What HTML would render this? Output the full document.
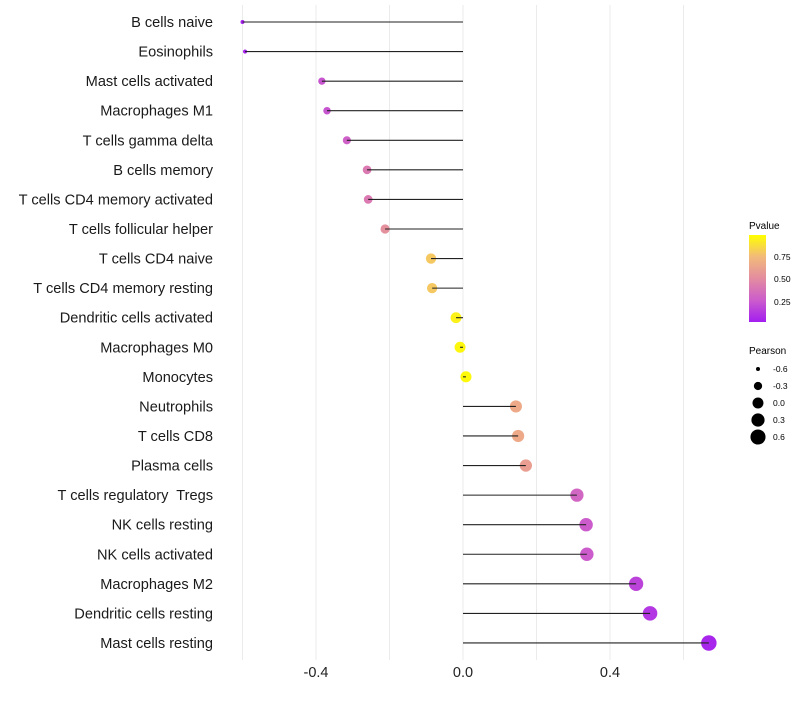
<!DOCTYPE html>
<html><head><meta charset="utf-8"><style>
body{margin:0;background:#fff;font-family:"Liberation Sans",sans-serif}
</style></head><body>
<svg id="chart" width="800" height="700" xmlns="http://www.w3.org/2000/svg" font-family="Liberation Sans, sans-serif">
<defs><linearGradient id="pg" x1="0" y1="1" x2="0" y2="0">
<stop offset="0" stop-color="#a31ef0"/><stop offset="0.25" stop-color="#cc5ccc"/><stop offset="0.5" stop-color="#e38ca0"/><stop offset="0.75" stop-color="#f2ba7a"/><stop offset="1" stop-color="#ffff00"/></linearGradient></defs>
<g id="grid"></g><g id="marks"></g><g id="labels"></g>
<g id="legend">
<text x="749" y="229" font-size="10">Pvalue</text>
<rect x="749" y="235" width="17" height="87" fill="url(#pg)"/>
<text x="774" y="260" font-size="8.5">0.75</text>
<text x="774" y="282" font-size="8.5">0.50</text>
<text x="774" y="305" font-size="8.5">0.25</text>
<text x="749" y="354" font-size="10">Pearson</text>
<g id="sizeleg"></g>
</g>
</svg>
<script>
const categories=["B cells naive","Eosinophils","Mast cells activated","Macrophages M1","T cells gamma delta","B cells memory","T cells CD4 memory activated","T cells follicular helper","T cells CD4 naive","T cells CD4 memory resting","Dendritic cells activated","Macrophages M0","Monocytes","Neutrophils","T cells CD8","Plasma cells","T cells regulatory  Tregs","NK cells resting","NK cells activated","Macrophages M2","Dendritic cells resting","Mast cells resting"];
const pearson=[-0.60,-0.593,-0.384,-0.37,-0.316,-0.261,-0.258,-0.212,-0.087,-0.084,-0.019,-0.008,0.008,0.144,0.15,0.171,0.31,0.335,0.337,0.471,0.509,0.669];
const pvalue=[0.02,0.02,0.22,0.22,0.27,0.4,0.4,0.52,0.8,0.8,0.95,0.97,0.98,0.66,0.66,0.6,0.3,0.25,0.25,0.15,0.1,0.03];
const xTicks=[-0.4,0.0,0.4];
const gridVals=[-0.6,-0.4,-0.2,0,0.2,0.4,0.6];
const sizeLegend=[-0.6,-0.3,0.0,0.3,0.6];
const NS="http://www.w3.org/2000/svg";
const x=v=>463+v*367.5;
const y=i=>22+i*29.57;
const r=v=>Math.sqrt(4+44*Math.max(0,v+0.6));
const stops=[[0,[163,30,240]],[0.25,[204,92,204]],[0.5,[227,140,160]],[0.75,[242,186,122]],[1,[255,255,0]]];
function col(p){for(let k=0;k<stops.length-1;k++){const[a,ca]=stops[k],[b,cb]=stops[k+1];if(p<=b){const t=(p-a)/(b-a);return"rgb("+ca.map((c,j)=>Math.round(c+(cb[j]-c)*t)).join(",")+")";}}return"rgb(255,255,0)";}
function mk(t,at){const e=document.createElementNS(NS,t);for(const k in at)e.setAttribute(k,at[k]);return e;}
const grid=document.getElementById("grid"),marks=document.getElementById("marks"),labels=document.getElementById("labels");
gridVals.forEach(v=>{const l=mk("line",{x1:x(v),x2:x(v),y1:5,y2:660,stroke:"#ebebeb","stroke-width":1});


grid.appendChild(l);});
xTicks.forEach(v=>{const t=mk("text",{x:x(v),y:677,"font-size":14.5,"text-anchor":"middle",fill:"#222"});t.textContent=v.toFixed(1);


labels.appendChild(t);});
categories.forEach((c,i)=>{
const t=mk("text",{x:213,y:y(i)+5,"font-size":14.6,"text-anchor":"end",fill:"#1a1a1a"});t.textContent=c;
t.style.whiteSpace="pre";


labels.appendChild(t);
const d=mk("circle",{cx:x(pearson[i]),cy:y(i),r:r(pearson[i]),fill:col(pvalue[i])});


marks.appendChild(d);
const l=mk("line",{x1:x(0),x2:x(pearson[i]),y1:y(i),y2:y(i),stroke:"#222","stroke-width":1.1});


marks.appendChild(l);
});
const sl=document.getElementById("sizeleg");
sizeLegend.forEach((v,k)=>{const cy=369+k*17;
const c=mk("circle",{cx:758,cy:cy,r:r(v),fill:"#000"});


sl.appendChild(c);
const t=mk("text",{x:773,y:cy+3,"font-size":8.5});t.textContent=v.toFixed(1);


sl.appendChild(t);});
</script>
</body></html>
